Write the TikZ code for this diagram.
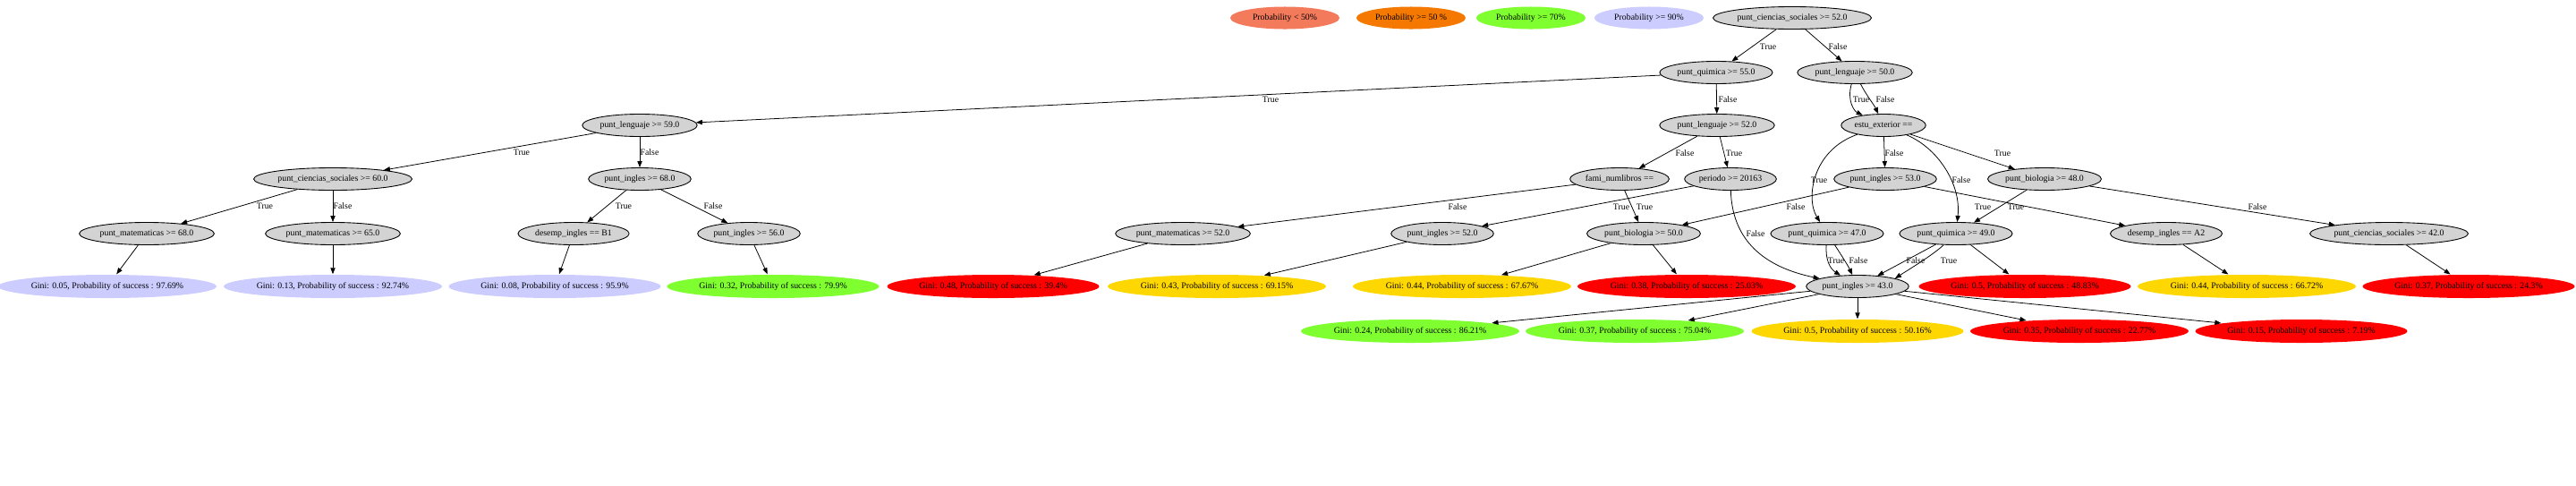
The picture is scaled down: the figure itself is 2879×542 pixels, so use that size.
\documentclass[tikz,border=0pt]{standalone}
\usepackage{fontspec}
\setmainfont{Liberation Serif}
\usetikzlibrary{arrows.meta,shapes.geometric}
\definecolor{gfill}{HTML}{D3D3D3}
\definecolor{cLav}{HTML}{CCCCFF}
\definecolor{cGreen}{HTML}{80FF30}
\definecolor{cRed}{HTML}{FF0000}
\definecolor{cGold}{HTML}{FFD700}
\definecolor{cCoral}{HTML}{F47A5C}
\definecolor{cOrange}{HTML}{F57900}
\tikzset{
  txt/.style={font=\fontsize{2.79pt}{3.2pt}\selectfont},
  gnode/.style={txt, ellipse, draw=black, line width=0.25pt, fill=gfill, inner xsep=0.3pt, inner ysep=0.5pt, minimum height=0.25cm},
  leaf/.style={txt, ellipse, draw=none, inner xsep=0.3pt, inner ysep=0.5pt, minimum height=0.26cm},
  legend/.style={txt, ellipse, draw=none, minimum width=1.22cm, minimum height=0.25cm, inner sep=0.3pt},
  edge/.style={draw=black, line width=0.22pt, -{Triangle[length=2pt,width=1.5pt]}},
  lbl/.style={txt, inner sep=0pt}
}
\begin{document}
\begin{tikzpicture}[x=0.01cm,y=-0.01cm]
\useasboundingbox (0,0) rectangle (2879,542);
% legend
\node[legend, fill=cCoral] (leg1) at (1436,20) {Probability < 50\%};
\node[legend, fill=cOrange] (leg2) at (1577,20) {Probability >= 50 \%};
\node[legend, fill=cGreen] (leg3) at (1711,20) {Probability >= 70\%};
\node[legend, fill=cLav] (leg4) at (1843,20) {Probability >= 90\%};
% level 0-1
\node[gnode] (root) at (2003,20) {punt\_ciencias\_sociales >= 52.0};
\node[gnode] (pq55) at (1918,81) {punt\_quimica >= 55.0};
\node[gnode] (pl50) at (2073,81) {punt\_lenguaje >= 50.0};
% level 2
\node[gnode] (pl59) at (715,140) {punt\_lenguaje >= 59.0};
\node[gnode] (pl52) at (1919,140) {punt\_lenguaje >= 52.0};
\node[gnode] (estu) at (2105,140) {estu\_exterior ==};
% level 3
\node[gnode] (pcs60) at (372,200) {punt\_ciencias\_sociales >= 60.0};
\node[gnode] (pi68) at (715,200) {punt\_ingles >= 68.0};
\node[gnode] (fami) at (1810,200) {fami\_numlibros ==};
\node[gnode] (per) at (1934,200) {periodo >= 20163};
\node[gnode] (pi53) at (2107,200) {punt\_ingles >= 53.0};
\node[gnode] (pb48) at (2285,200) {punt\_biologia >= 48.0};
% level 4
\node[gnode] (pm68) at (164,261) {punt\_matematicas >= 68.0};
\node[gnode] (pm65) at (372,261) {punt\_matematicas >= 65.0};
\node[gnode] (b1) at (641,261) {desemp\_ingles == B1};
\node[gnode] (pi56) at (837,261) {punt\_ingles >= 56.0};
\node[gnode] (pm52) at (1322,261) {punt\_matematicas >= 52.0};
\node[gnode] (pi52) at (1612,261) {punt\_ingles >= 52.0};
\node[gnode] (pb50) at (1837,261) {punt\_biologia >= 50.0};
\node[gnode] (pq47) at (2042,261) {punt\_quimica >= 47.0};
\node[gnode] (pq49) at (2186,261) {punt\_quimica >= 49.0};
\node[gnode] (a2) at (2421,261) {desemp\_ingles == A2};
\node[gnode] (pcs42) at (2670,261) {punt\_ciencias\_sociales >= 42.0};
% level 5
\node[leaf, fill=cLav] (lf1) at (120,320) {Gini: 0.05, Probability of success : 97.69\%};
\node[leaf, fill=cLav] (lf2) at (372,320) {Gini: 0.13, Probability of success : 92.74\%};
\node[leaf, fill=cLav] (lf3) at (620,320) {Gini: 0.08, Probability of success : 95.9\%};
\node[leaf, fill=cGreen] (lf4) at (864,320) {Gini: 0.32, Probability of success : 79.9\%};
\node[leaf, fill=cRed] (lf5) at (1110,320) {Gini: 0.48, Probability of success : 39.4\%};
\node[leaf, fill=cGold] (lf6) at (1360,320) {Gini: 0.43, Probability of success : 69.15\%};
\node[leaf, fill=cGold] (lf7) at (1634,320) {Gini: 0.44, Probability of success : 67.67\%};
\node[leaf, fill=cRed] (lf8) at (1885,320) {Gini: 0.38, Probability of success : 25.03\%};
\node[gnode] (pi43) at (2076,320) {punt\_ingles >= 43.0};
\node[leaf, fill=cRed] (lf9) at (2263,320) {Gini: 0.5, Probability of success : 48.83\%};
\node[leaf, fill=cGold] (lf10) at (2511,320) {Gini: 0.44, Probability of success : 66.72\%};
\node[leaf, fill=cRed] (lf11) at (2759,320) {Gini: 0.37, Probability of success : 24.3\%};
% level 6
\node[leaf, fill=cGreen] (lf12) at (1576,370) {Gini: 0.24, Probability of success : 86.21\%};
\node[leaf, fill=cGreen] (lf13) at (1827,370) {Gini: 0.37, Probability of success : 75.04\%};
\node[leaf, fill=cGold] (lf14) at (2076,370) {Gini: 0.5, Probability of success : 50.16\%};
\node[leaf, fill=cRed] (lf15) at (2324,370) {Gini: 0.35, Probability of success : 22.77\%};
\node[leaf, fill=cRed] (lf16) at (2572,370) {Gini: 0.15, Probability of success : 7.19\%};
% edges
\draw[edge] (root) -- (pq55);
\draw[edge] (root) -- (pl50);
\draw[edge] (pq55) -- (pl59);
\draw[edge] (pq55) -- (pl52);
\draw[edge] (pl50) .. controls (2064,112) and (2072,124) .. (estu);
\draw[edge] (pl50) .. controls (2085,105) and (2095,118) .. (estu);
\draw[edge] (pl59) -- (pcs60);
\draw[edge] (pl59) -- (pi68);
\draw[edge] (pl52) -- (fami);
\draw[edge] (pl52) -- (per);
\draw[edge] (estu) .. controls (2025,168) and (2018,222) .. (pq47);
\draw[edge] (estu) -- (pi53);
\draw[edge] (estu) .. controls (2165,165) and (2192,205) .. (pq49);
\draw[edge] (estu) -- (pb48);
\draw[edge] (pcs60) -- (pm68);
\draw[edge] (pcs60) -- (pm65);
\draw[edge] (pi68) -- (b1);
\draw[edge] (pi68) -- (pi56);
\draw[edge] (fami) -- (pm52);
\draw[edge] (fami) -- (pb50);
\draw[edge] (per) -- (pi52);
\draw[edge] (per) .. controls (1936,275) and (1980,300) .. (pi43);
\draw[edge] (pi53) -- (pb50);
\draw[edge] (pi53) -- (a2);
\draw[edge] (pb48) -- (pq49);
\draw[edge] (pb48) -- (pcs42);
\draw[edge] (pm68) -- (lf1);
\draw[edge] (pm65) -- (lf2);
\draw[edge] (b1) -- (lf3);
\draw[edge] (pi56) -- (lf4);
\draw[edge] (pm52) -- (lf5);
\draw[edge] (pi52) -- (lf6);
\draw[edge] (pb50) -- (lf7);
\draw[edge] (pb50) -- (lf8);
\draw[edge] (pq47) .. controls (2040,290) and (2045,300) .. (pi43);
\draw[edge] (pq47) .. controls (2058,285) and (2066,298) .. (pi43);
\draw[edge] (pq49) -- (pi43);
\draw[edge] (pq49) .. controls (2160,285) and (2135,300) .. (pi43.12);
\draw[edge] (pq49) -- (lf9);
\draw[edge] (a2) -- (lf10);
\draw[edge] (pcs42) -- (lf11);
\draw[edge] (pi43) -- (lf12);
\draw[edge] (pi43) -- (lf13);
\draw[edge] (pi43) -- (lf14);
\draw[edge] (pi43) -- (lf15);
\draw[edge] (pi43) -- (lf16);
% labels
\node[lbl] (t1) at (1976,52) {True};
\node[lbl] (t2) at (2054,52) {False};
\node[lbl] (t3) at (1420,111) {True};
\node[lbl] (t4) at (1931,111) {False};
\node[lbl] (t5) at (2080,111) {True};
\node[lbl] (t6) at (2107,111) {False};
\node[lbl] (t7) at (583,170) {True};
\node[lbl] (t8) at (726,170) {False};
\node[lbl] (t9) at (1883,171) {False};
\node[lbl] (t10) at (1938,171) {True};
\node[lbl] (t11) at (2117,171) {False};
\node[lbl] (t12) at (2238,171) {True};
\node[lbl] (t13) at (2033,201) {True};
\node[lbl] (t14) at (2192,201) {False};
\node[lbl] (t15) at (296,230) {True};
\node[lbl] (t16) at (383,230) {False};
\node[lbl] (t17) at (697,230) {True};
\node[lbl] (t18) at (797,230) {False};
\node[lbl] (t19) at (1629,231) {False};
\node[lbl] (t20) at (1812,231) {True};
\node[lbl] (t21) at (1838,231) {True};
\node[lbl] (t22) at (2007,231) {False};
\node[lbl] (t23) at (2216,231) {True};
\node[lbl] (t24) at (2253,231) {True};
\node[lbl] (t25) at (2523,231) {False};
\node[lbl] (t26) at (1962,261) {False};
\node[lbl] (t27) at (2052,291) {True};
\node[lbl] (t28) at (2077,291) {False};
\node[lbl] (t29) at (2141,291) {False};
\node[lbl] (t30) at (2178,291) {True};
\end{tikzpicture}
\end{document}
